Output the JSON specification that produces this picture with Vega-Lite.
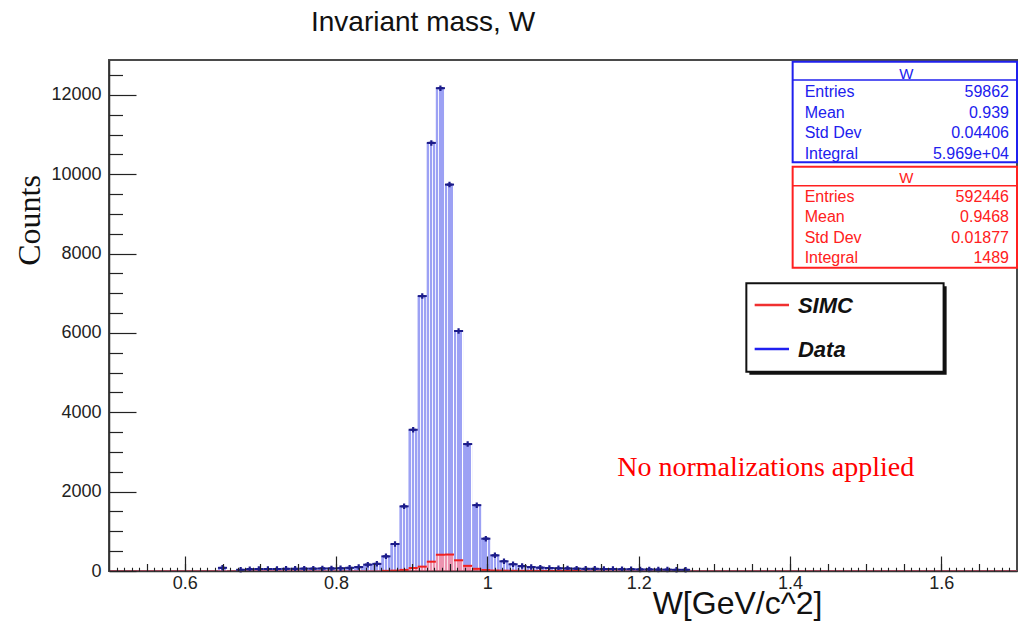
{
  "$schema": "https://vega.github.io/schema/vega-lite/v6.json",
  "width": 908,
  "height": 511,
  "autosize": "none",
  "padding": {"left": 109, "top": 60, "right": 1, "bottom": 50},
  "background": "#ffffff",
  "title": {"text": "Invariant mass, W", "anchor": "start", "frame": "group", "dx": 202, "offset": 1, "baseline": "alphabetic", "font": "Liberation Sans", "fontSize": 28, "fontWeight": "normal", "color": "#111111"},
  "config": {"view": {"stroke": "#4a4a4a", "strokeWidth": 2}},
  "datasets": {
    "data": [
      {"lo":0.644,"hi":0.656,"w":0.650,"count":80},
      {"lo":0.668,"hi":0.680,"w":0.674,"count":30},
      {"lo":0.680,"hi":0.692,"w":0.686,"count":45},
      {"lo":0.692,"hi":0.704,"w":0.698,"count":50},
      {"lo":0.704,"hi":0.716,"w":0.710,"count":50},
      {"lo":0.716,"hi":0.728,"w":0.722,"count":50},
      {"lo":0.728,"hi":0.740,"w":0.734,"count":55},
      {"lo":0.740,"hi":0.752,"w":0.746,"count":55},
      {"lo":0.752,"hi":0.764,"w":0.758,"count":60},
      {"lo":0.764,"hi":0.776,"w":0.770,"count":60},
      {"lo":0.776,"hi":0.788,"w":0.782,"count":65},
      {"lo":0.788,"hi":0.800,"w":0.794,"count":65},
      {"lo":0.800,"hi":0.812,"w":0.806,"count":70},
      {"lo":0.812,"hi":0.824,"w":0.818,"count":80},
      {"lo":0.824,"hi":0.836,"w":0.830,"count":100},
      {"lo":0.836,"hi":0.848,"w":0.842,"count":160},
      {"lo":0.848,"hi":0.860,"w":0.854,"count":180},
      {"lo":0.860,"hi":0.872,"w":0.866,"count":370},
      {"lo":0.872,"hi":0.884,"w":0.878,"count":680},
      {"lo":0.884,"hi":0.896,"w":0.890,"count":1630},
      {"lo":0.896,"hi":0.908,"w":0.902,"count":3560},
      {"lo":0.908,"hi":0.920,"w":0.914,"count":6930},
      {"lo":0.920,"hi":0.932,"w":0.926,"count":10790},
      {"lo":0.932,"hi":0.944,"w":0.938,"count":12170},
      {"lo":0.944,"hi":0.956,"w":0.950,"count":9740},
      {"lo":0.956,"hi":0.968,"w":0.962,"count":6050},
      {"lo":0.968,"hi":0.980,"w":0.974,"count":3200},
      {"lo":0.980,"hi":0.992,"w":0.986,"count":1660},
      {"lo":0.992,"hi":1.004,"w":0.998,"count":815},
      {"lo":1.004,"hi":1.016,"w":1.010,"count":395},
      {"lo":1.016,"hi":1.028,"w":1.022,"count":245},
      {"lo":1.028,"hi":1.040,"w":1.034,"count":170},
      {"lo":1.040,"hi":1.052,"w":1.046,"count":125},
      {"lo":1.052,"hi":1.064,"w":1.058,"count":100},
      {"lo":1.064,"hi":1.076,"w":1.070,"count":85},
      {"lo":1.076,"hi":1.088,"w":1.082,"count":75},
      {"lo":1.088,"hi":1.100,"w":1.094,"count":70},
      {"lo":1.100,"hi":1.112,"w":1.106,"count":65},
      {"lo":1.112,"hi":1.124,"w":1.118,"count":60},
      {"lo":1.124,"hi":1.136,"w":1.130,"count":55},
      {"lo":1.136,"hi":1.148,"w":1.142,"count":55},
      {"lo":1.148,"hi":1.160,"w":1.154,"count":50},
      {"lo":1.160,"hi":1.172,"w":1.166,"count":50},
      {"lo":1.172,"hi":1.184,"w":1.178,"count":45},
      {"lo":1.184,"hi":1.196,"w":1.190,"count":45},
      {"lo":1.196,"hi":1.208,"w":1.202,"count":40},
      {"lo":1.208,"hi":1.220,"w":1.214,"count":40},
      {"lo":1.220,"hi":1.232,"w":1.226,"count":35},
      {"lo":1.232,"hi":1.244,"w":1.238,"count":35},
      {"lo":1.244,"hi":1.256,"w":1.250,"count":30},
      {"lo":1.256,"hi":1.268,"w":1.262,"count":30}
    ],
    "simc": [
      {"lo":0.860,"hi":0.872,"w":0.866,"count":4},
      {"lo":0.872,"hi":0.884,"w":0.878,"count":10},
      {"lo":0.884,"hi":0.896,"w":0.890,"count":28},
      {"lo":0.896,"hi":0.908,"w":0.902,"count":75},
      {"lo":0.908,"hi":0.920,"w":0.914,"count":110},
      {"lo":0.920,"hi":0.932,"w":0.926,"count":235},
      {"lo":0.932,"hi":0.944,"w":0.938,"count":410},
      {"lo":0.944,"hi":0.956,"w":0.950,"count":415},
      {"lo":0.956,"hi":0.968,"w":0.962,"count":270},
      {"lo":0.968,"hi":0.980,"w":0.974,"count":130},
      {"lo":0.980,"hi":0.992,"w":0.986,"count":55},
      {"lo":0.992,"hi":1.004,"w":0.998,"count":25},
      {"lo":1.004,"hi":1.016,"w":1.010,"count":12},
      {"lo":1.016,"hi":1.028,"w":1.022,"count":8},
      {"lo":1.028,"hi":1.040,"w":1.034,"count":5},
      {"lo":1.040,"hi":1.052,"w":1.046,"count":4},
      {"lo":1.052,"hi":1.064,"w":1.058,"count":3},
      {"lo":1.064,"hi":1.076,"w":1.070,"count":3},
      {"lo":1.076,"hi":1.088,"w":1.082,"count":2},
      {"lo":1.088,"hi":1.100,"w":1.094,"count":2},
      {"lo":1.100,"hi":1.112,"w":1.106,"count":2},
      {"lo":1.112,"hi":1.124,"w":1.118,"count":1}
    ]
  },
  "resolve": {"axis": {"x": "independent", "y": "independent"}},
  "layer": [
    {
      "data": {"name": "data"},
      "mark": {"type": "bar", "fill": "#b3b7f7"},
      "encoding": {
        "x": {"field": "lo", "type": "quantitative", "scale": {"domain": [0.5, 1.7], "nice": false, "zero": false},
          "axis": {"orient": "bottom", "values": [0.6, 0.8, 1, 1.2, 1.4, 1.6], "format": "~g", "tickSize": -15, "tickColor": "#222222", "tickWidth": 1.2,
            "labelFont": "Liberation Sans", "labelFontSize": 18, "labelColor": "#222222", "labelPadding": 18, "labelFlush": false, "labelOverlap": false,
            "domainColor": "#333333", "domainWidth": 1.5, "grid": false, "zindex": 1,
            "title": "W[GeV/c^2]", "titleFont": "Liberation Sans", "titleFontSize": 32, "titleFontWeight": "normal", "titleColor": "#111111",
            "titleX": 628, "titleY": 42, "titleAlign": "center", "titleBaseline": "alphabetic"}},
        "x2": {"field": "hi"},
        "y": {"field": "count", "type": "quantitative", "scale": {"domain": [0, 12880], "nice": false},
          "axis": {"orient": "left", "values": [0, 2000, 4000, 6000, 8000, 10000, 12000], "format": "d", "tickSize": -27, "tickColor": "#222222", "tickWidth": 1.2,
            "labelFont": "Liberation Sans", "labelFontSize": 18, "labelColor": "#222222", "labelPadding": 35, "labelFlush": false, "labelOverlap": false,
            "domainColor": "#333333", "domainWidth": 1.5, "grid": false, "zindex": 1,
            "title": "Counts", "titleFont": "Liberation Serif", "titleFontSize": 32, "titleFontWeight": "normal", "titleColor": "#111111",
            "titleX": -70, "titleY": 160, "titleAngle": -90, "titleAlign": "center", "titleBaseline": "alphabetic"}},
        "y2": {"datum": 0}
      }
    },
    {
      "data": {"name": "data"},
      "mark": {"type": "bar", "fill": {"gradient": "linear", "x1": 0, "y1": 0, "x2": 1, "y2": 0, "stops": [
        {"offset": 0, "color": "#9ca1f4"}, {"offset": 0.27, "color": "#9ca1f4"},
        {"offset": 0.27, "color": "#f4f4fe"}, {"offset": 0.35, "color": "#f4f4fe"},
        {"offset": 0.35, "color": "#9ca1f4"}, {"offset": 0.62, "color": "#9ca1f4"},
        {"offset": 0.62, "color": "#f4f4fe"}, {"offset": 0.70, "color": "#f4f4fe"},
        {"offset": 0.70, "color": "#9ca1f4"}, {"offset": 0.92, "color": "#9ca1f4"},
        {"offset": 0.92, "color": "#ffffff"}, {"offset": 1, "color": "#ffffff"}]}},
      "encoding": {
        "x": {"field": "lo", "type": "quantitative", "axis": null},
        "x2": {"field": "hi"},
        "y": {"field": "count", "type": "quantitative", "axis": null},
        "y2": {"datum": 0}
      }
    },
    {
      "data": {"name": "simc"},
      "mark": {"type": "bar", "fill": {"gradient": "linear", "x1": 0, "y1": 0, "x2": 1, "y2": 0, "stops": [
        {"offset": 0, "color": "#ec93b0"}, {"offset": 0.27, "color": "#ec93b0"},
        {"offset": 0.27, "color": "#fbe3ea"}, {"offset": 0.35, "color": "#fbe3ea"},
        {"offset": 0.35, "color": "#ec93b0"}, {"offset": 0.62, "color": "#ec93b0"},
        {"offset": 0.62, "color": "#fbe3ea"}, {"offset": 0.70, "color": "#fbe3ea"},
        {"offset": 0.70, "color": "#ec93b0"}, {"offset": 0.92, "color": "#ec93b0"},
        {"offset": 0.92, "color": "#fbe3ea"}, {"offset": 1, "color": "#fbe3ea"}]}},
      "encoding": {
        "x": {"field": "lo", "type": "quantitative",
          "axis": {"orient": "bottom", "values": [0.55, 0.6, 0.65, 0.7, 0.75, 0.8, 0.85, 0.9, 0.95, 1, 1.05, 1.1, 1.15, 1.2, 1.25, 1.3, 1.35, 1.4, 1.45, 1.5, 1.55, 1.6, 1.65],
            "tickSize": -7.5, "tickColor": "#222222", "tickWidth": 1.2, "labels": false, "domain": false, "grid": false, "title": null, "zindex": 1}},
        "x2": {"field": "hi"},
        "y": {"field": "count", "type": "quantitative",
          "axis": {"orient": "left", "values": [500, 1000, 1500, 2500, 3000, 3500, 4500, 5000, 5500, 6500, 7000, 7500, 8500, 9000, 9500, 10500, 11000, 11500, 12500],
            "tickSize": -13.5, "tickColor": "#222222", "tickWidth": 1.2, "labels": false, "domain": false, "grid": false, "title": null, "zindex": 1}},
        "y2": {"datum": 0}
      }
    },
    {
      "data": {"values": [{}]},
      "mark": {"type": "rule", "color": "#e0506e", "strokeWidth": 1.5},
      "encoding": {
        "x": {"datum": 0.5, "type": "quantitative",
          "axis": {"orient": "bottom", "values": [0.51,0.52,0.53,0.54,0.56,0.57,0.58,0.59,0.61,0.62,0.63,0.64,0.66,0.67,0.68,0.69,0.71,0.72,0.73,0.74,0.76,0.77,0.78,0.79,0.81,0.82,0.83,0.84,0.86,0.87,0.88,0.89,0.91,0.92,0.93,0.94,0.96,0.97,0.98,0.99,1.01,1.02,1.03,1.04,1.06,1.07,1.08,1.09,1.11,1.12,1.13,1.14,1.16,1.17,1.18,1.19,1.21,1.22,1.23,1.24,1.26,1.27,1.28,1.29,1.31,1.32,1.33,1.34,1.36,1.37,1.38,1.39,1.41,1.42,1.43,1.44,1.46,1.47,1.48,1.49,1.51,1.52,1.53,1.54,1.56,1.57,1.58,1.59,1.61,1.62,1.63,1.64,1.66,1.67,1.68,1.69],
            "tickSize": -3.75, "tickColor": "#222222", "tickWidth": 1.1, "labels": false, "domain": false, "grid": false, "title": null, "zindex": 1}},
        "x2": {"datum": 1.7},
        "y": {"datum": 0, "type": "quantitative", "axis": null}
      }
    },
    {
      "data": {"name": "data"},
      "mark": {"type": "rule", "color": "#1c1c8a", "strokeWidth": 2},
      "encoding": {
        "x": {"field": "lo", "type": "quantitative", "axis": null},
        "x2": {"field": "hi"},
        "y": {"field": "count", "type": "quantitative", "axis": null}
      }
    },
    {
      "data": {"name": "data"},
      "mark": {"type": "point", "shape": "cross", "filled": true, "size": 30, "color": "#1c1c8a", "opacity": 1},
      "encoding": {
        "x": {"field": "w", "type": "quantitative", "axis": null},
        "y": {"field": "count", "type": "quantitative", "axis": null}
      }
    },
    {
      "data": {"name": "simc"},
      "mark": {"type": "rule", "color": "#f02020", "strokeWidth": 2},
      "encoding": {
        "x": {"field": "lo", "type": "quantitative", "axis": null},
        "x2": {"field": "hi"},
        "y": {"field": "count", "type": "quantitative", "axis": null}
      }
    },
    {
      "data": {"values": [{}]},
      "mark": {"type": "text", "text": "No normalizations applied", "font": "Liberation Serif", "fontSize": 28, "color": "#ff0000", "align": "center", "baseline": "alphabetic"},
      "encoding": {"x": {"datum": 1.3679, "type": "quantitative", "axis": null}, "y": {"datum": 2394, "type": "quantitative", "axis": null}}
    },
    {
      "data": {"values": [{}]},
      "mark": {"type": "rect", "fill": "#ffffff", "stroke": "#2020ee", "strokeWidth": 2},
      "encoding": {"x": {"datum": 1.4035, "type": "quantitative", "axis": null}, "x2": {"datum": 1.7}, "y": {"datum": 12837, "type": "quantitative", "axis": null}, "y2": {"datum": 10301}}
    },
    {
      "data": {"values": [{}]},
      "mark": {"type": "rule", "stroke": "#2020ee", "strokeWidth": 1.5},
      "encoding": {"x": {"datum": 1.4035, "type": "quantitative", "axis": null}, "x2": {"datum": 1.7}, "y": {"datum": 12376, "type": "quantitative", "axis": null}}
    },
    {
      "data": {"values": [{}]},
      "mark": {"type": "text", "text": "W", "font": "Liberation Sans", "fontSize": 15, "color": "#2020ee", "align": "center", "baseline": "alphabetic"},
      "encoding": {"x": {"datum": 1.5538, "type": "quantitative", "axis": null}, "y": {"datum": 12400, "type": "quantitative", "axis": null}}
    },
    {
      "data": {"values": [{}]},
      "mark": {"type": "text", "text": ["Entries", "Mean", "Std Dev", "Integral"], "lineHeight": 20.5, "font": "Liberation Sans", "fontSize": 16, "color": "#2020ee", "align": "left", "baseline": "alphabetic"},
      "encoding": {"x": {"datum": 1.4194, "type": "quantitative", "axis": null}, "y": {"datum": 11942, "type": "quantitative", "axis": null}}
    },
    {
      "data": {"values": [{}]},
      "mark": {"type": "text", "text": ["59862", "0.939", "0.04406", "5.969e+04"], "lineHeight": 20.5, "font": "Liberation Sans", "fontSize": 16, "color": "#2020ee", "align": "right", "baseline": "alphabetic"},
      "encoding": {"x": {"datum": 1.6894, "type": "quantitative", "axis": null}, "y": {"datum": 11942, "type": "quantitative", "axis": null}}
    },
    {
      "data": {"values": [{}]},
      "mark": {"type": "rect", "fill": "#ffffff", "stroke": "#ff2020", "strokeWidth": 2},
      "encoding": {"x": {"datum": 1.4035, "type": "quantitative", "axis": null}, "x2": {"datum": 1.7}, "y": {"datum": 10191, "type": "quantitative", "axis": null}, "y2": {"datum": 7645}}
    },
    {
      "data": {"values": [{}]},
      "mark": {"type": "rule", "stroke": "#ff2020", "strokeWidth": 1.5},
      "encoding": {"x": {"datum": 1.4035, "type": "quantitative", "axis": null}, "x2": {"datum": 1.7}, "y": {"datum": 9712, "type": "quantitative", "axis": null}}
    },
    {
      "data": {"values": [{}]},
      "mark": {"type": "text", "text": "W", "font": "Liberation Sans", "fontSize": 15, "color": "#ff2020", "align": "center", "baseline": "alphabetic"},
      "encoding": {"x": {"datum": 1.5538, "type": "quantitative", "axis": null}, "y": {"datum": 9770, "type": "quantitative", "axis": null}}
    },
    {
      "data": {"values": [{}]},
      "mark": {"type": "text", "text": ["Entries", "Mean", "Std Dev", "Integral"], "lineHeight": 20.3, "font": "Liberation Sans", "fontSize": 16, "color": "#ff2020", "align": "left", "baseline": "alphabetic"},
      "encoding": {"x": {"datum": 1.4194, "type": "quantitative", "axis": null}, "y": {"datum": 9296, "type": "quantitative", "axis": null}}
    },
    {
      "data": {"values": [{}]},
      "mark": {"type": "text", "text": ["592446", "0.9468", "0.01877", "1489"], "lineHeight": 20.3, "font": "Liberation Sans", "fontSize": 16, "color": "#ff2020", "align": "right", "baseline": "alphabetic"},
      "encoding": {"x": {"datum": 1.6894, "type": "quantitative", "axis": null}, "y": {"datum": 9296, "type": "quantitative", "axis": null}}
    },
    {
      "data": {"values": [{}]},
      "mark": {"type": "rect", "fill": "#111111"},
      "encoding": {"x": {"datum": 1.3463, "type": "quantitative", "axis": null}, "x2": {"datum": 1.6070}, "y": {"datum": 7176, "type": "quantitative", "axis": null}, "y2": {"datum": 4947}}
    },
    {
      "data": {"values": [{}]},
      "mark": {"type": "rect", "fill": "#ffffff", "stroke": "#111111", "strokeWidth": 2},
      "encoding": {"x": {"datum": 1.3423, "type": "quantitative", "axis": null}, "x2": {"datum": 1.6030}, "y": {"datum": 7252, "type": "quantitative", "axis": null}, "y2": {"datum": 5023}}
    },
    {
      "data": {"values": [{}]},
      "mark": {"type": "rule", "stroke": "#f03030", "strokeWidth": 2.5},
      "encoding": {"x": {"datum": 1.3533, "type": "quantitative", "axis": null}, "x2": {"datum": 1.3987}, "y": {"datum": 6705, "type": "quantitative", "axis": null}}
    },
    {
      "data": {"values": [{}]},
      "mark": {"type": "rule", "stroke": "#2020f0", "strokeWidth": 2.5},
      "encoding": {"x": {"datum": 1.3533, "type": "quantitative", "axis": null}, "x2": {"datum": 1.3987}, "y": {"datum": 5596, "type": "quantitative", "axis": null}}
    },
    {
      "data": {"values": [{}]},
      "mark": {"type": "text", "text": "SIMC", "font": "Liberation Sans", "fontSize": 22, "fontWeight": "bold", "fontStyle": "italic", "color": "#111111", "align": "left", "baseline": "alphabetic"},
      "encoding": {"x": {"datum": 1.4105, "type": "quantitative", "axis": null}, "y": {"datum": 6495, "type": "quantitative", "axis": null}}
    },
    {
      "data": {"values": [{}]},
      "mark": {"type": "text", "text": "Data", "font": "Liberation Sans", "fontSize": 22, "fontWeight": "bold", "fontStyle": "italic", "color": "#111111", "align": "left", "baseline": "alphabetic"},
      "encoding": {"x": {"datum": 1.4105, "type": "quantitative", "axis": null}, "y": {"datum": 5401, "type": "quantitative", "axis": null}}
    }
  ]
}
